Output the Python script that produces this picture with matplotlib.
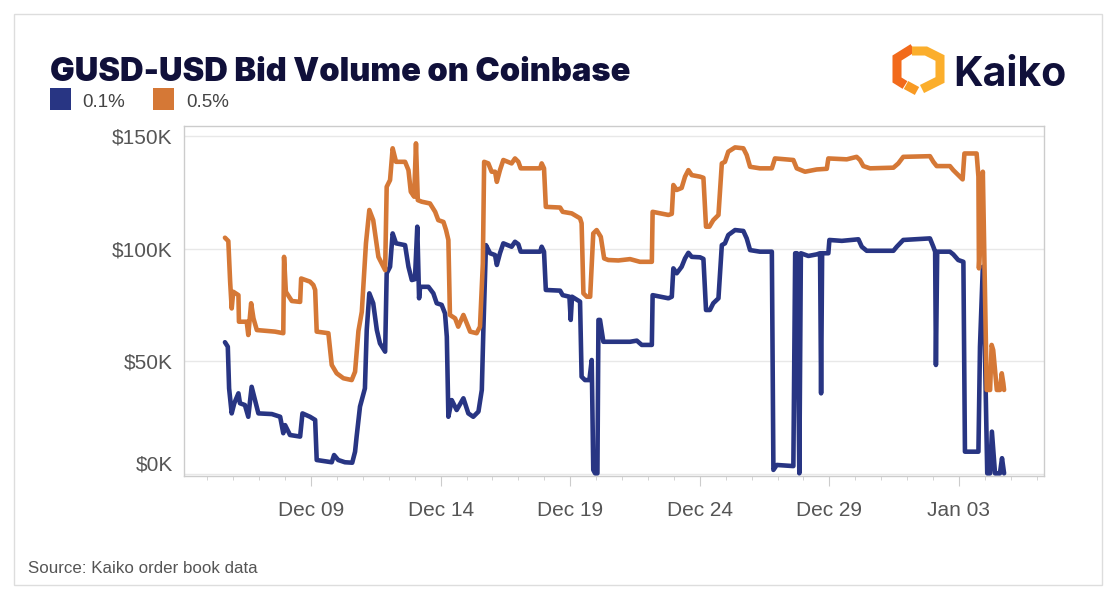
import matplotlib
matplotlib.use("Agg")
import matplotlib.pyplot as plt
import matplotlib.dates as mdates
import matplotlib.transforms as mtrans
from matplotlib.patches import Rectangle
from matplotlib.ticker import FuncFormatter
import pandas as pd

# ---------------- data (days since 2022-12-05 00:00, values in $K) ----------------
base_date = "2022-12-05"

o_day = [0.68, 0.81, 0.88, 0.94, 1.00, 1.20, 1.22, 1.52, 1.58, 1.69, 1.78, 1.91, 2.61, 2.93, 2.96, 3.03,
         3.26, 3.58, 3.62, 3.96, 4.09, 4.16, 4.22, 4.67, 4.80, 4.99, 5.25, 5.57, 5.70, 5.83, 5.96, 6.12,
         6.25, 6.40, 6.60, 6.73, 6.86, 6.92, 7.05, 7.15, 7.28, 7.63, 7.76, 7.85, 7.98, 8.05, 8.12, 8.27,
         8.59, 8.79, 8.91, 9.11, 9.21, 9.30, 9.36, 9.56, 9.68, 9.88, 10.01, 10.14, 10.39, 10.52, 10.63,
         10.68, 10.84, 10.97, 11.10, 11.17, 11.29, 11.42, 11.74, 11.87, 12.00, 12.09, 12.84, 12.90, 12.99,
         13.06, 13.61, 13.71, 14.06, 14.38, 14.44, 14.51, 14.64, 14.77, 14.89, 15.02, 15.18, 15.31, 15.47,
         15.86, 16.31, 16.69, 17.15, 17.18, 17.79, 17.92, 17.98, 18.11, 18.30, 18.43, 18.56, 18.69, 19.01,
         19.14, 19.24, 19.37, 19.52, 19.72, 19.85, 19.97, 20.10, 20.36, 20.68, 20.81, 20.94, 21.32, 21.78,
         21.90, 22.61, 22.74, 23.06, 23.51, 23.90, 23.96, 24.67, 25.05, 25.18, 25.31, 25.57, 26.47, 26.66,
         26.85, 27.88, 28.01, 28.14, 28.65, 28.78, 28.97, 29.14, 29.21, 29.68, 29.75, 29.77, 29.84, 29.92,
         30.07, 30.20, 30.26, 30.32, 30.46, 30.58, 30.65, 30.71, 30.74]
o_val = [104.9, 103.4, 85.4, 73.5, 80.9, 79.4, 67.6, 67.6, 61.7, 75.8, 69.1, 63.9, 63.2, 62.5, 96.4, 80.9,
         76.8, 76.4, 86.8, 85.4, 83.9, 81.7, 63.2, 62.5, 48.4, 44.7, 42.5, 41.7, 45.4, 63.5, 72.0, 102.4,
         117.2, 112.7, 96.4, 93.5, 90.5, 127.5, 130.5, 144.6, 138.6, 138.6, 134.9, 125.3, 123.1, 146.8, 121.6, 120.9,
         120.1, 116.4, 112.7, 111.9, 108.3, 103.9, 70.6, 69.1, 65.4, 70.6, 66.9, 63.2, 62.5, 65.4, 93.5,
         138.6, 137.9, 134.2, 134.2, 129.7, 134.9, 139.4, 137.9, 140.1, 138.6, 135.7, 135.7, 137.9, 135.7,
         118.6, 118.3, 116.4, 115.7, 113.5, 111.3, 80.2, 78.7, 78.7, 106.8, 108.3, 105.3, 95.7, 95.0,
         94.8, 95.4, 94.2, 94.2, 116.4, 115.0, 115.5, 128.3, 126.1, 127.0, 132.0, 134.9, 132.7, 132.0,
         131.5, 109.8, 109.8, 112.7, 115.0, 137.9, 138.6, 143.1, 145.0, 144.6, 141.6, 136.4, 135.7, 135.7,
         140.1, 139.4, 135.7, 134.2, 135.2, 135.5, 140.1, 139.7, 140.8, 139.4, 136.7, 135.7, 136.0, 137.9,
         140.8, 141.1, 138.6, 136.7, 136.7, 134.9, 132.7, 130.8, 142.3, 142.3, 132.0, 91.3, 108.3, 134.2,
         37.3, 37.3, 57.3, 55.0, 37.3, 37.3, 44.7, 40.3, 37.3]

b_day = [0.68, 0.79, 0.84, 0.94, 1.04, 1.20, 1.26, 1.45, 1.58, 1.71, 1.84, 1.97, 2.49, 2.81, 2.93, 3.00,
         3.19, 3.58, 3.67, 3.96, 4.16, 4.22, 4.80, 4.89, 5.05, 5.31, 5.59, 5.70, 5.76, 5.89, 6.08, 6.15,
         6.25, 6.40, 6.54, 6.66, 6.86, 6.92, 7.05, 7.15, 7.28, 7.63, 7.76, 7.89, 8.01, 8.10, 8.17, 8.21,
         8.53, 8.72, 8.85, 9.04, 9.17, 9.24, 9.30, 9.43, 9.62, 9.88, 10.07, 10.26, 10.46, 10.59, 10.65,
         10.75, 10.91, 11.10, 11.17, 11.29, 11.42, 11.74, 11.87, 12.00, 12.09, 12.84, 12.90, 12.99, 13.06,
         13.61, 13.71, 13.97, 14.02, 14.07, 14.38, 14.44, 14.57, 14.74, 14.83, 14.89, 14.96, 15.05, 15.09,
         15.15, 15.28, 16.31, 16.57, 16.76, 17.15, 17.18, 17.79, 17.92, 17.98, 18.11, 18.30, 18.43, 18.56,
         18.69, 19.01, 19.14, 19.24, 19.39, 19.52, 19.72, 19.85, 19.97, 20.10, 20.36, 20.68, 20.81, 20.94,
         21.32, 21.78, 21.84, 21.97, 22.61, 22.68, 22.75, 22.84, 22.90, 23.19, 23.51, 23.64, 23.68, 23.72,
         23.96, 24.00, 24.48, 25.12, 25.25, 25.44, 26.47, 26.60, 26.85, 27.88, 28.01, 28.08, 28.11, 28.16,
         28.65, 28.78, 28.97, 29.17, 29.23, 29.75, 29.81, 29.92, 30.01, 30.09, 30.20, 30.27, 30.39, 30.58,
         30.66, 30.74]
b_val = [58.5, 56.5, 38.0, 26.9, 31.4, 35.8, 31.4, 30.6, 25.4, 38.7, 32.8, 26.9, 26.6, 25.4, 18.1, 21.7,
         17.3, 16.6, 26.9, 25.4, 24.0, 6.2, 5.2, 8.4, 6.2, 5.2, 5.0, 9.9, 16.6, 29.9, 38.0, 63.9,
         80.2, 75.8, 63.9, 58.0, 54.3, 89.1, 92.0, 106.8, 102.4, 101.6, 92.0, 86.1, 86.5, 109.8, 78.0, 83.1,
         83.1, 80.2, 75.8, 75.1, 71.3, 60.9, 25.4, 32.8, 28.4, 33.6, 26.9, 25.4, 27.7, 37.3, 63.9,
         101.6, 98.0, 97.2, 92.8, 98.0, 102.4, 100.9, 103.1, 102.0, 98.7, 98.7, 100.9, 98.7, 81.7,
         81.4, 79.4, 78.7, 68.4, 78.7, 76.5, 43.2, 41.7, 41.7, 50.6, 1.8, 0.3, 0.3, 68.4,
         68.4, 58.7, 58.7, 59.2, 57.3, 57.3, 79.4, 78.0, 78.7, 91.3, 89.1, 92.0, 95.7, 98.2,
         96.4, 96.2, 95.5, 72.8, 72.8, 75.8, 78.0, 101.6, 102.4, 106.1, 108.3, 107.9, 104.6, 99.4,
         98.7, 98.7, 1.8, 4.0, 3.5, 98.0, 98.0, 0.3, 98.0, 96.8, 97.5, 98.0, 35.8, 98.0,
         98.0, 103.9, 103.5, 104.2, 100.9, 99.1, 99.1, 100.9, 103.9, 104.6, 100.9, 98.7, 48.4, 98.7,
         98.7, 97.5, 95.0, 94.2, 9.9, 9.9, 56.5, 92.0, 49.1, 0.3, 0.3, 18.8, 0.3, 0.3,
         7.0, 0.3]

series_names = ["0.1%", "0.5%"]
series_colors = ["#283583", "#D57836"]
y_ticks = [0, 50, 100, 150]
major_tick_dates = ["2022-12-09", "2022-12-14", "2022-12-19", "2022-12-24", "2022-12-29", "2023-01-03"]
x_tick_labels = ["Dec 09", "Dec 14", "Dec 19", "Dec 24", "Dec 29", "Jan 03"]
title = "GUSD-USD Bid Volume on Coinbase"
source = "Source: Kaiko order book data"

# ---------------- figure ----------------
W, H = 1116, 600
fig = plt.figure(figsize=(W / 100, H / 100), dpi=100)
fig.patch.set_facecolor("white")

# overlay in pixel coordinates for decorations
ov = fig.add_axes([0, 0, 1, 1], zorder=0)
ov.set_xlim(0, W)
ov.set_ylim(H, 0)
ov.axis("off")
ov.add_patch(Rectangle((14, 14), 1088, 571, facecolor="white", edgecolor="#dddddd", lw=1))

# main axes
L, R, T, B = 184, 1044, 126, 476
ax = fig.add_axes([L / W, 1 - B / H, (R - L) / W, (B - T) / H], zorder=2)
ax.set_facecolor("none")

t0 = pd.Timestamp(base_date)
o_x = t0 + pd.to_timedelta(o_day, unit="D")
b_x = t0 + pd.to_timedelta(b_day, unit="D")

lw = 3.3
ax.plot(b_x, b_val, color=series_colors[0], lw=lw, solid_joinstyle="round", solid_capstyle="round", zorder=3)
ax.plot(o_x, o_val, color=series_colors[1], lw=lw, solid_joinstyle="round", solid_capstyle="round", zorder=4)

ax.set_xlim(t0 - pd.Timedelta(days=0.90), t0 + pd.Timedelta(days=32.28))
ax.set_ylim(-0.9, 154.5)

ax.set_yticks(y_ticks)
ax.yaxis.set_major_formatter(FuncFormatter(lambda v, p: f"${int(v)}K"))
ax.grid(axis="y", color="#e8e8e8", lw=1)
ax.set_axisbelow(True)

ax.set_xticks(pd.to_datetime(major_tick_dates))
ax.set_xticklabels(x_tick_labels)
ax.xaxis.set_minor_locator(mdates.DayLocator())

for lab in ax.get_xticklabels() + ax.get_yticklabels():
    lab.set_fontfamily(["Liberation Sans", "DejaVu Sans"])
    lab.set_fontsize(15)
    lab.set_color("#555555")

ax.tick_params(axis="y", length=0, pad=8)
ax.tick_params(axis="x", which="major", length=7, color="#cccccc", pad=11)
ax.tick_params(axis="x", which="minor", length=3, color="#cccccc")
for s in ax.spines.values():
    s.set_color("#cccccc")
    s.set_linewidth(1)

# lift the $0K label so it stays inside the plot
ylabs = ax.get_yticklabels()
ylabs[0].set_transform(ylabs[0].get_transform() + mtrans.ScaledTranslation(0, 11 / 100, fig.dpi_scale_trans))

# title
ov.text(50, 81, title, fontsize=23.5, fontweight="black", color="#10103a",
        family=["Inter", "Roboto", "DejaVu Sans"], va="baseline", ha="left")

# legend
ov.add_patch(Rectangle((50, 88), 21, 22, facecolor=series_colors[0], edgecolor="none"))
ov.text(82, 107, series_names[0], fontsize=13.5, color="#444444", family=["Liberation Sans"], va="baseline")
ov.add_patch(Rectangle((153, 88), 21, 22, facecolor=series_colors[1], edgecolor="none"))
ov.text(186, 107, series_names[1], fontsize=13.5, color="#444444", family=["Liberation Sans"], va="baseline")

# Kaiko logo
ov.plot([913, 897, 897, 905], [48, 58, 80, 85], color="#F26A1B", lw=6.5, solid_capstyle="butt", solid_joinstyle="miter")
ov.plot([912, 926, 940, 940, 922], [51, 51, 58, 80, 89], color="#FBAE2C", lw=6.5, solid_capstyle="butt", solid_joinstyle="miter")
ov.plot([906, 917], [85, 91], color="#F89A24", lw=6.5, solid_capstyle="butt")
ov.text(953, 86, "Kaiko", fontsize=29.5, fontweight="bold", color="#10103a",
        family=["Inter", "Roboto", "DejaVu Sans"], va="baseline", ha="left")

# source
ov.text(28, 573, source, fontsize=12.2, color="#555555", family=["Liberation Sans"], va="baseline")

fig.savefig("out.png", dpi=100, facecolor="white")
